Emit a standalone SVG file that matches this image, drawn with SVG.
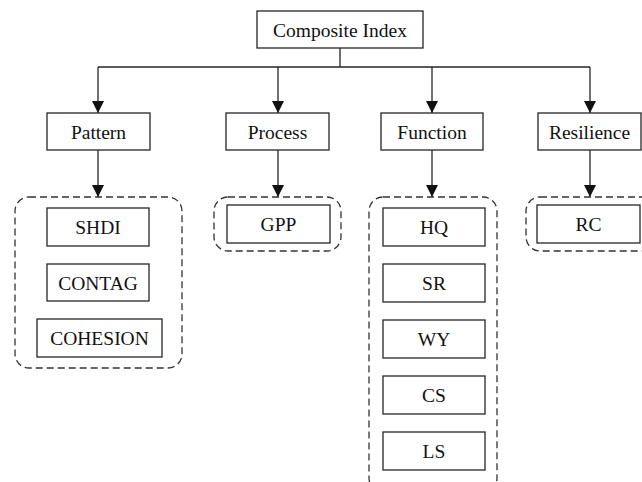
<svg xmlns="http://www.w3.org/2000/svg" width="642" height="482" viewBox="0 0 642 482">
  <style>
    .box { fill: #ffffff; stroke: #262626; stroke-width: 1.3; }
    .group { fill: none; stroke: #333333; stroke-width: 1.3; stroke-dasharray: 7 4; }
    .label { font-family: "Liberation Serif", "Times New Roman", serif; font-size: 19.5px; fill: #111111; text-anchor: middle; }
    .link { fill: none; stroke: #262626; stroke-width: 1.3; }
  </style>
  <defs>
    <marker id="arrow" markerUnits="userSpaceOnUse" markerWidth="12" markerHeight="14" viewBox="0 0 12 14" refX="12" refY="6" orient="auto">
      <path d="M0,0 L12,6 L0,12 Z" fill="#111111"/>
    </marker>
  </defs>
  <rect width="642" height="482" fill="#ffffff"/>

  <!-- connectors -->
  <g id="connectors">
    <path class="link" d="M340,48 V67 M98,67 H590"/>
    <path class="link" d="M98,67 V113" marker-end="url(#arrow)"/>
    <path class="link" d="M278,67 V113" marker-end="url(#arrow)"/>
    <path class="link" d="M432,67 V113" marker-end="url(#arrow)"/>
    <path class="link" d="M590,67 V113" marker-end="url(#arrow)"/>
    <path class="link" d="M98,150 V197" marker-end="url(#arrow)"/>
    <path class="link" d="M278,150 V197" marker-end="url(#arrow)"/>
    <path class="link" d="M432,150 V197" marker-end="url(#arrow)"/>
    <path class="link" d="M590,150 V197" marker-end="url(#arrow)"/>
  </g>

  <!-- root -->
  <g id="composite-index">
    <rect class="box" x="257" y="11" width="166" height="37"/>
    <text class="label" x="340" y="36.5">Composite Index</text>
  </g>

  <!-- dimensions -->
  <g id="pattern">
    <rect class="box" x="47" y="113" width="103" height="37"/>
    <text class="label" x="98.5" y="138.5">Pattern</text>
  </g>
  <g id="process">
    <rect class="box" x="226" y="113" width="103" height="37"/>
    <text class="label" x="277.5" y="138.5">Process</text>
  </g>
  <g id="function">
    <rect class="box" x="381" y="113" width="102" height="37"/>
    <text class="label" x="432" y="138.5">Function</text>
  </g>
  <g id="resilience">
    <rect class="box" x="538" y="113" width="103" height="37"/>
    <text class="label" x="589.5" y="138.5">Resilience</text>
  </g>

  <!-- indicator groups -->
  <g id="pattern-group">
    <rect class="group" x="15" y="197" width="167" height="171" rx="14"/>
  </g>
  <g id="shdi">
    <rect class="box" x="47" y="208" width="102" height="38"/>
    <text class="label" x="98" y="234">SHDI</text>
  </g>
  <g id="contag">
    <rect class="box" x="47" y="264" width="102" height="37"/>
    <text class="label" x="98" y="289.5">CONTAG</text>
  </g>
  <g id="cohesion">
    <rect class="box" x="37" y="319" width="125" height="38"/>
    <text class="label" x="99.5" y="345">COHESION</text>
  </g>

  <g id="process-group">
    <rect class="group" x="214" y="197" width="127" height="54" rx="14"/>
  </g>
  <g id="gpp">
    <rect class="box" x="227" y="205" width="103" height="38"/>
    <text class="label" x="278.5" y="231">GPP</text>
  </g>

  <g id="function-group">
    <rect class="group" x="369" y="197" width="128" height="295" rx="14"/>
  </g>
  <g id="hq">
    <rect class="box" x="383" y="208" width="102" height="38"/>
    <text class="label" x="434" y="234">HQ</text>
  </g>
  <g id="sr">
    <rect class="box" x="383" y="264" width="102" height="38"/>
    <text class="label" x="434" y="290">SR</text>
  </g>
  <g id="wy">
    <rect class="box" x="383" y="320" width="102" height="38"/>
    <text class="label" x="434" y="346">WY</text>
  </g>
  <g id="cs">
    <rect class="box" x="383" y="376" width="102" height="38"/>
    <text class="label" x="434" y="402">CS</text>
  </g>
  <g id="ls">
    <rect class="box" x="383" y="432" width="102" height="38"/>
    <text class="label" x="434" y="458">LS</text>
  </g>

  <g id="resilience-group">
    <rect class="group" x="526" y="197" width="130" height="54" rx="14"/>
  </g>
  <g id="rc">
    <rect class="box" x="537" y="205" width="103" height="38"/>
    <text class="label" x="588.5" y="231">RC</text>
  </g>
</svg>
